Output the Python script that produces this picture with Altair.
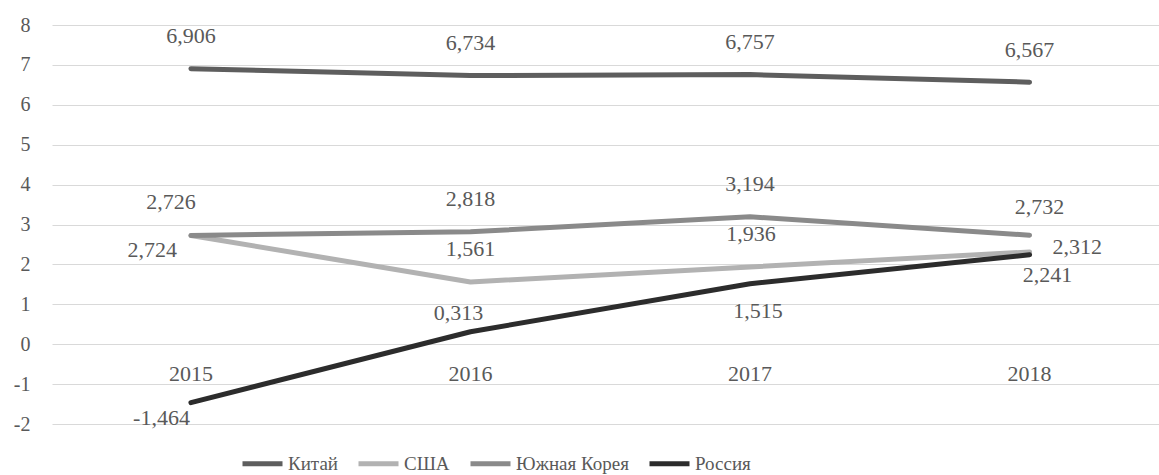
import altair as alt
import pandas as pd

years = [2015, 2016, 2017, 2018]
series_names = ["Китай", "США", "Южная Корея", "Россия"]
china = [6.906, 6.734, 6.757, 6.567]
usa = [2.724, 1.561, 1.936, 2.312]
korea = [2.726, 2.818, 3.194, 2.732]
russia = [-1.464, 0.313, 1.515, 2.241]
y_ticks = [-2, -1, 0, 1, 2, 3, 4, 5, 6, 7, 8]

colors = ["#5e5e5e", "#b2b2b2", "#8a8a8a", "#2c2c2c"]
TEXT = "#595959"
FONT = "Liberation Serif"

rows = []
for name, vals in zip(series_names, [china, usa, korea, russia]):
    for yr, v in zip(years, vals):
        rows.append({"series": name, "year": yr, "value": v,
                     "label": f"{v:.3f}".replace(".", ",")})
df = pd.DataFrame(rows)
years_df = pd.DataFrame({"year": years, "ylabel": [str(y) for y in years], "value": [0] * len(years)})

# label placement (align, dx, dy) per series/year
placement = {
    ("Китай", 2015): ("center", 0, -33),
    ("Китай", 2016): ("center", 0, -33),
    ("Китай", 2017): ("center", 0, -33),
    ("Китай", 2018): ("center", 0, -32),
    ("США", 2015): ("right", -14, 14),
    ("США", 2016): ("center", 0, -33),
    ("США", 2017): ("center", 1, -33),
    ("США", 2018): ("left", 23, -5),
    ("Южная Корея", 2015): ("center", -20, -33),
    ("Южная Корея", 2016): ("center", 0, -33),
    ("Южная Корея", 2017): ("center", 0, -33),
    ("Южная Корея", 2018): ("center", 10, -28),
    ("Россия", 2015): ("right", -1, 15),
    ("Россия", 2016): ("center", -12, -19),
    ("Россия", 2017): ("center", 8, 27),
    ("Россия", 2018): ("center", 18, 20),
}

x_enc = alt.X("year:Q", scale=alt.Scale(domain=[2014.503, 2018.463], nice=False, zero=False), axis=None)
y_enc = alt.Y(
    "value:Q",
    scale=alt.Scale(domain=[-2, 8], nice=False, zero=False),
    axis=alt.Axis(
        values=y_ticks, title=None, grid=True, gridColor="#d9d9d9", gridWidth=1.2,
        domain=False, ticks=False, labelPadding=22, labelFont=FONT, labelFontSize=20,
        labelColor=TEXT, labelExpr="'' + datum.value",
    ),
)

lines = alt.Chart(df).mark_line(strokeWidth=5, strokeCap="round", strokeJoin="round").encode(
    x=x_enc,
    y=y_enc,
    color=alt.Color(
        "series:N",
        scale=alt.Scale(domain=series_names, range=colors),
        sort=series_names,
        legend=alt.Legend(
            title=None, orient="none", direction="horizontal", legendX=188, legendY=416,
            symbolType="stroke", symbolSize=1600, symbolStrokeWidth=5,
            labelFont=FONT, labelFontSize=19, labelColor=TEXT, labelOffset=3,
            columnPadding=10, padding=0,
        ),
    ),
    order=alt.Order("year:Q"),
)

layers = [lines]
for (s, yr), (al, dx, dy) in placement.items():
    layers.append(
        alt.Chart(df).transform_filter(
            (alt.datum.series == s) & (alt.datum.year == yr)
        ).mark_text(align=al, baseline="middle", dx=dx, dy=dy, font=FONT, fontSize=22, color=TEXT).encode(
            x=x_enc, y=y_enc, text="label:N"
        )
    )

year_labels = alt.Chart(years_df).mark_text(
    align="center", baseline="middle", dy=30, font=FONT, fontSize=22, color=TEXT
).encode(x=x_enc, y=y_enc, text="ylabel:N")
layers.append(year_labels)

chart = alt.layer(*layers).properties(
    width=1107, height=399,
    autosize=alt.AutoSizeParams(type="none"),
    padding={"left": 52, "top": 25, "right": 0, "bottom": 51},
    background="white",
).configure_view(stroke=None)

chart.save("out.html", embed_options={"renderer": "svg", "actions": False})
